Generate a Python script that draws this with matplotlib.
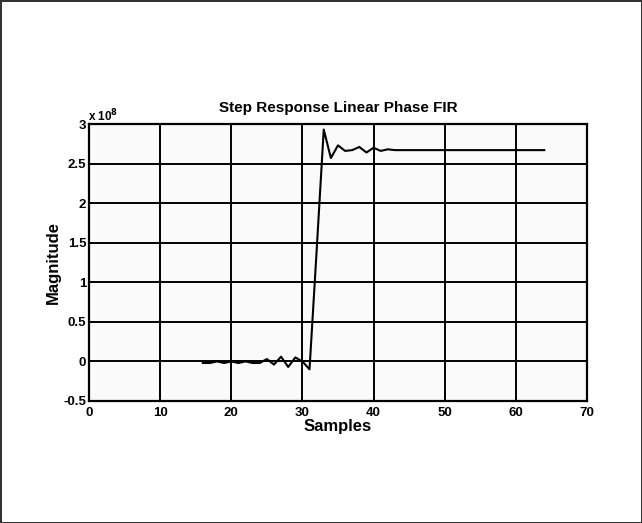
import matplotlib
matplotlib.use("Agg")
import matplotlib.pyplot as plt
from matplotlib.ticker import FuncFormatter
import numpy as np

# 阶跃响应数据（单位 1e8），从第 16 个采样点开始
samples = np.arange(16, 65)
head = [-0.02, -0.02, 0.0, -0.02, 0.0, -0.02, 0.0, -0.02, -0.02, 0.03,
        -0.04, 0.06, -0.07, 0.05, 0.0, -0.10, 1.40, 2.93, 2.57, 2.73,
        2.66, 2.67, 2.71, 2.64, 2.70, 2.66, 2.68]
tail = [2.67] * (len(samples) - len(head))
magnitude = np.array(head + tail) * 1e8

xticks = [0, 10, 20, 30, 40, 50, 60, 70]
yticks = [-0.5, 0, 0.5, 1, 1.5, 2, 2.5, 3]

plt.rcParams['font.family'] = ['Liberation Sans', 'DejaVu Sans']
plt.rcParams['font.weight'] = 'bold'

fig = plt.figure(figsize=(6.42, 5.23), dpi=100)
fig.patch.set_facecolor('white')
fig.patch.set_edgecolor('#333333')
fig.patch.set_linewidth(1.0)

ax = fig.add_axes([0.1386, 0.2333, 0.7757, 0.5296])
ax.set_facecolor('#fafafa')
ax.plot(samples, magnitude, color='black', lw=1.5)

ax.set_xlim(0, 70)
ax.set_ylim(-0.5e8, 3e8)
ax.set_xticks(xticks)
ax.set_yticks([v * 1e8 for v in yticks])
ax.yaxis.set_major_formatter(FuncFormatter(lambda v, p: '%g' % (v / 1e8)))
ax.grid(True, color='black', lw=1.4, ls='-')
ax.set_axisbelow(True)
for s in ax.spines.values():
    s.set_linewidth(1.6)
ax.tick_params(direction='in', length=3, width=1.2, labelsize=9.5, pad=2)
ax.tick_params(axis='x', pad=4)
for lab in ax.get_xticklabels() + ax.get_yticklabels():
    lab.set_fontweight('bold')

ax.set_title('Step Response Linear Phase FIR', fontsize=11, fontweight='bold', pad=9)
ax.set_xlabel('Samples', fontsize=12, fontweight='bold', labelpad=0)
ax.set_ylabel('Magnitude', fontsize=12, fontweight='bold', labelpad=2)
ax.text(-0.002, 1.0, r'x 10$^{8}$', transform=ax.transAxes, fontsize=8.5,
        fontweight='bold', va='bottom', ha='left')

fig.savefig('out.png', dpi=100, facecolor=fig.get_facecolor(),
            edgecolor=fig.get_edgecolor())
